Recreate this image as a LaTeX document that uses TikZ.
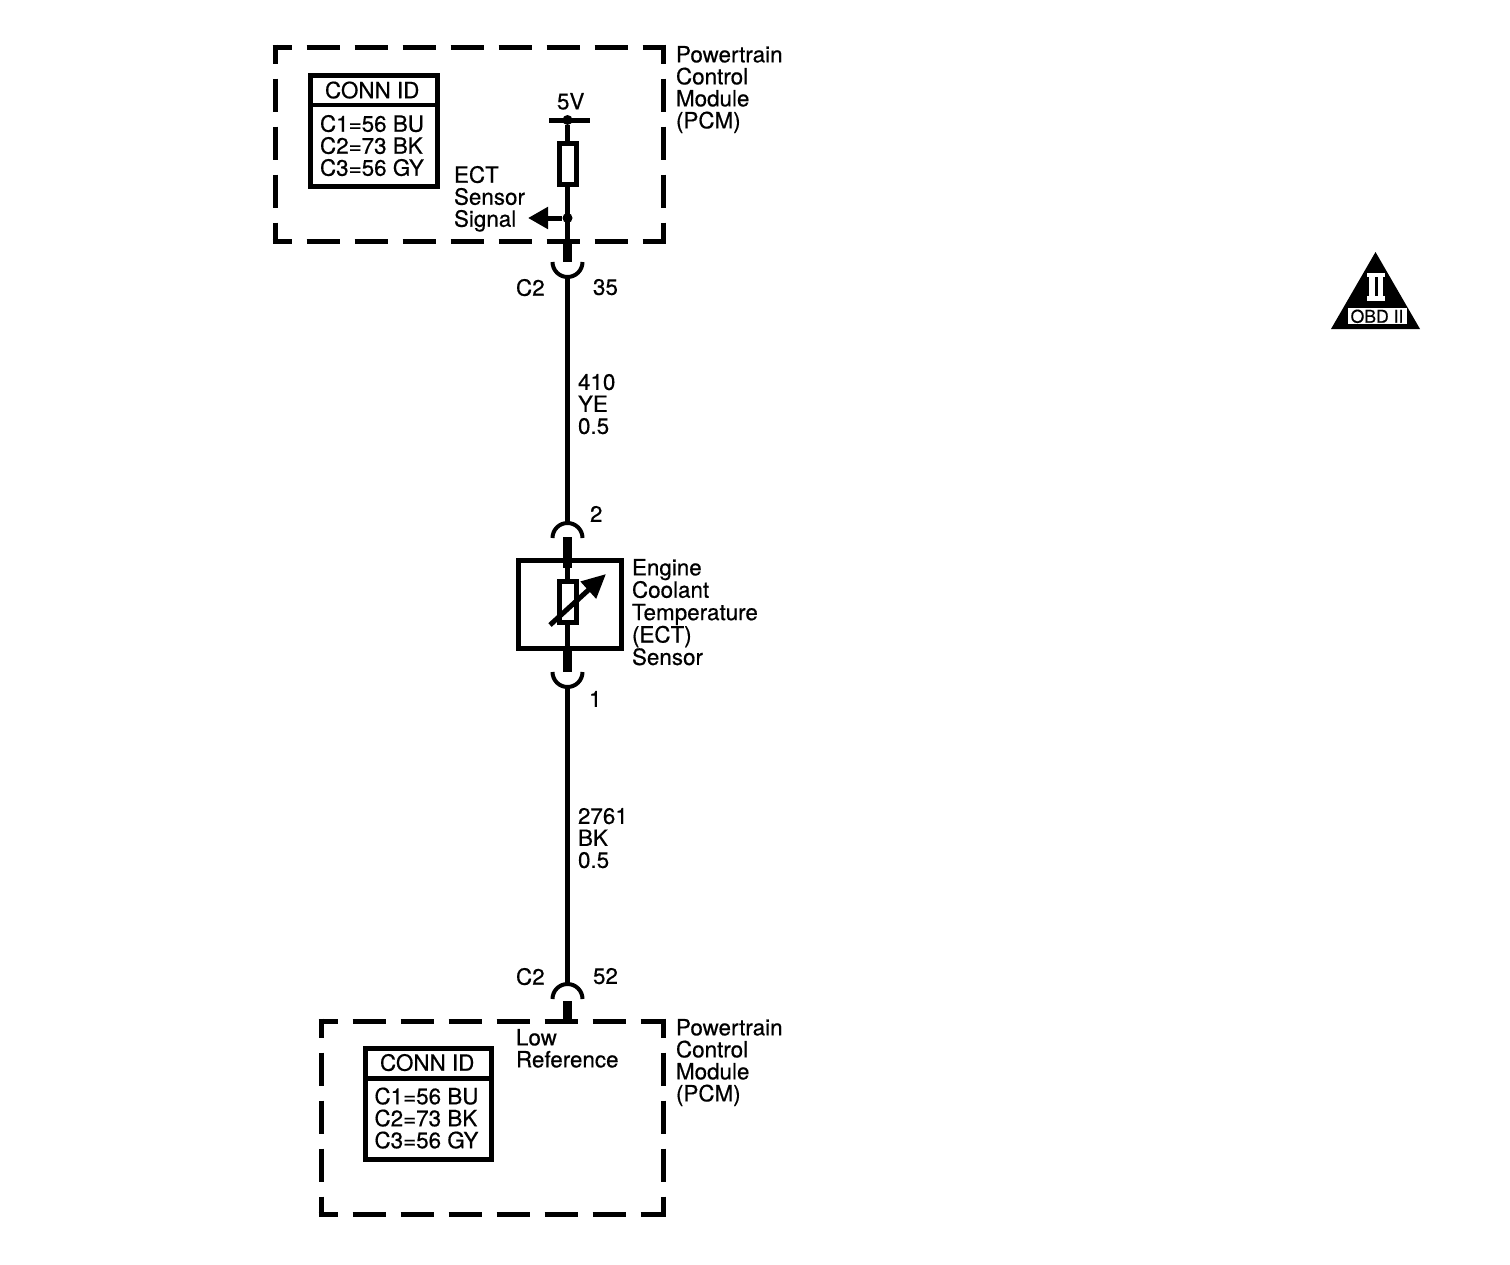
\documentclass[tikz,border=0pt]{standalone}
\usepackage{fontspec}
\setmainfont[FakeBold=0.5]{TeX Gyre Heros}
\usetikzlibrary{arrows.meta}
\tikzset{
  px/.style={x=0.5pt,y=-0.5pt},
  wire/.style={line width=2.5pt},
  thickwire/.style={line width=4.6pt},
  modbox/.style={line width=2.5pt,dash pattern=on 16.5pt off 7.5pt,dash phase=7pt},
  box/.style={draw,line width=2.5pt},
  arcline/.style={line width=2pt},
  lbl/.style={inner sep=0pt,outer sep=0pt,anchor=north west,align=left,font=\fontsize{11.2}{11}\selectfont},
  dot/.style={circle,fill=black,inner sep=0pt,minimum size=5pt},
  part/.style={draw,fill=white,line width=2.5pt,inner sep=0pt,minimum width=8.5pt,minimum height=20.5pt},
  pt/.style={inner sep=0pt,outer sep=0pt,minimum size=0pt}
}
\begin{document}
\begin{tikzpicture}[px]
\useasboundingbox (0,0) rectangle (1510,1264);
% --- top module box
\coordinate (ta) at (272.5,47); \coordinate (tb) at (665.5,47);
\coordinate (tc) at (275,44.5); \coordinate (td) at (275,243.5);
\coordinate (te) at (663,44.5); \coordinate (tf) at (663,243.5);
\coordinate (tg) at (272.5,241); \coordinate (th) at (665.5,241);
\draw[modbox] (ta) -- (tb);
\draw[modbox] (tg) -- (th);
\draw[modbox] (tc) -- (td);
\draw[modbox] (te) -- (tf);
% --- bottom module box
\coordinate (ba) at (318.5,1021); \coordinate (bb) at (665.5,1021);
\coordinate (bc) at (321,1018.5); \coordinate (bd) at (321,1216.5);
\coordinate (be) at (663,1018.5); \coordinate (bf) at (663,1216.5);
\coordinate (bg) at (318.5,1214); \coordinate (bh) at (665.5,1214);
\draw[modbox] (ba) -- (bb);
\draw[modbox] (bg) -- (bh);
\draw[modbox] (bc) -- (bd);
\draw[modbox] (be) -- (bf);
% --- conn id tables
\node[box,pt,minimum width=63.5pt,minimum height=55.5pt] (conna) at (373.8,131) {};
\draw[line width=2.2pt] ([yshift=-14.8pt]conna.north west) -- ([yshift=-14.8pt]conna.north east);
\node[box,pt,minimum width=63pt,minimum height=55.5pt] (connb) at (428.5,1103.5) {};
\draw[line width=2.2pt] ([yshift=-15.2pt]connb.north west) -- ([yshift=-15.2pt]connb.north east);
\node[lbl] (ca) at (325,81.5) {CONN ID};
\node[lbl] (cb) at (320,115) {C1=56 BU\\C2=73 BK\\C3=56 GY};
\node[lbl] (cc) at (380,1054) {CONN ID};
\node[lbl] (cd) at (374.5,1087.5) {C1=56 BU\\C2=73 BK\\C3=56 GY};
% --- top wire
\coordinate (barl) at (549,120); \coordinate (barr) at (590,120);
\node[dot] (v5) at (567.5,120) {};
\node[part] (ra) at (567.5,164) {};
\node[dot] (jn) at (567.5,218) {};
\coordinate (tt) at (567.5,241);
\coordinate (ttb) at (567.5,262);
\coordinate (arcA) at (567.5,276);
\coordinate (sig) at (528,218);
\draw[line width=2.5pt] (barl) -- (barr);
\draw[wire] (v5) -- (ra);
\draw[wire] (ra) -- (tt);
\draw[wire,-{Triangle[length=10pt,width=10.5pt]}] (jn) -- (sig);
\draw[thickwire] (tt) -- (ttb);
\draw[arcline] (552.5,262) arc[start angle=180,end angle=0,radius=15];
% --- main wire 1
\coordinate (arcB) at (567.5,522);
\draw[wire] (arcA) -- (arcB);
\draw[arcline] (552.5,538) arc[start angle=180,end angle=360,radius=15];
% --- sensor
\node[box,pt,minimum width=51.5pt,minimum height=44pt] (sens) at (570,604) {};
\coordinate (sa) at (567.5,537);
\coordinate (sb) at (567.5,568);
\draw[thickwire] (sa) -- (sb);
\node[part] (rb) at (567.5,602) {};
\draw[wire] (sb) -- (rb);
\coordinate (sc) at (567.5,649);
\coordinate (sd) at (567.5,672);
\draw[wire] (rb) -- (sc);
\draw[thickwire] (sc) -- (sd);
\coordinate (va) at (550,625); \coordinate (vb) at (606,574);
\draw[wire,-{Triangle[length=12pt,width=11pt]}] (va) -- (vb);
\draw[arcline] (552.5,672) arc[start angle=180,end angle=0,radius=15];
% --- main wire 2
\coordinate (arcC) at (567.5,687);
\coordinate (arcD) at (567.5,985);
\draw[wire] (arcC) -- (arcD);
\draw[arcline] (552.5,999) arc[start angle=180,end angle=360,radius=15];
\coordinate (ba1) at (567.5,1001);
\coordinate (ba2) at (567.5,1021);
\draw[thickwire] (ba1) -- (ba2);
% --- labels
\node[lbl] (l1) at (676,46) {Powertrain\\Control\\Module\\(PCM)};
\node[lbl] (l2) at (676,1019) {Powertrain\\Control\\Module\\(PCM)};
\node[lbl] (l3) at (557,93) {5V};
\node[lbl] (l4) at (454,166) {ECT\\Sensor\\Signal};
\node[lbl] (l5) at (516,279) {C2};
\node[lbl] (l6) at (593,279) {35};
\node[lbl] (l7) at (578,374) {410\\YE\\0.5};
\node[lbl] (l8) at (590,506) {2};
\node[lbl,font=\fontsize{11.2}{11.2}\selectfont] (l9) at (632,559) {Engine\\Coolant\\Temperature\\(ECT)\\Sensor};
\node[lbl] (l10) at (589,691) {1};
\node[lbl] (l11) at (578,808) {2761\\BK\\0.5};
\node[lbl] (l12) at (516,968) {C2};
\node[lbl] (l13) at (593,968) {52};
\node[lbl] (l14) at (516,1029) {Low\\Reference};
% --- OBD II badge
\fill (1375.5,252) -- (1420,329) -- (1331,329) -- cycle;
\fill[white] (1367,273) rectangle (1385,277);
\fill[white] (1367,296) rectangle (1385,301);
\fill[white] (1369,273) rectangle (1374.5,300);
\fill[white] (1377.5,273) rectangle (1383,300);
\fill[white] (1348,308) rectangle (1407,324);
\node[inner sep=0pt,font=\fontsize{8.8}{9}\selectfont] (obd) at (1377,316.3) {OBD II};
\end{tikzpicture}
\end{document}
